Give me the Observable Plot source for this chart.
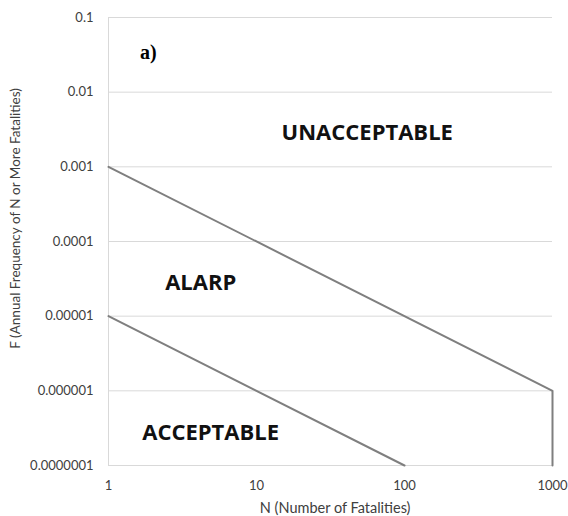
<!DOCTYPE html>
<html><head><meta charset="utf-8">
<script src="https://cdn.jsdelivr.net/npm/d3@7"></script>
<script src="https://cdn.jsdelivr.net/npm/@observablehq/plot@0.6"></script>
<style>body{margin:0;background:#fff;} svg{font-family:Lato,"Open Sans",sans-serif;}</style>
</head><body><div id="chart"></div>
<script>
const xTicks = [1, 10, 100, 1000];
const yTicks = [1e-7, 1e-6, 1e-5, 1e-4, 1e-3, 1e-2, 1e-1];
const yTickLabels = ["0.0000001","0.000001","0.00001","0.0001","0.001","0.01","0.1"];
const upperN = [1, 1000, 1000];
const upperF = [1e-3, 1e-6, 1e-7];
const lowerN = [1, 100];
const lowerF = [1e-5, 1e-7];
const regionNames = ["UNACCEPTABLE", "ALARP", "ACCEPTABLE"];
const regionN = [56, 4.2, 4.9];
const regionF = [0.0028, 2.75e-5, 2.7e-7];
const panelLabel = "a)";
const panelN = [1.86];
const panelF = [0.034];
const xTitle = "N (Number of Fatalities)";
const yTitle = "F (Annual Frequency of N or More Fatalities)";

const upper = upperN.map((n, i) => ({n, f: upperF[i]}));
const lower = lowerN.map((n, i) => ({n, f: lowerF[i]}));
const regions = regionNames.map((t, i) => ({t, n: regionN[i], f: regionF[i]}));

const chart = Plot.plot({
  width: 568, height: 516,
  marginLeft: 108, marginRight: 16, marginTop: 17, marginBottom: 51,
  style: {fontSize: "13px", color: "#404040"},
  x: {type: "log", domain: [1, 1000], ticks: xTicks, tickFormat: d => String(d), tickSize: 0, tickPadding: 15,
      label: null},
  y: {type: "log", domain: [1e-7, 0.1], ticks: yTicks, tickFormat: d => yTickLabels[yTicks.findIndex(v => Math.abs(Math.log10(v) - Math.log10(d)) < 1e-6)], tickSize: 0, tickPadding: 15,
      label: null},
  marks: [
    Plot.ruleY(yTicks, {stroke: "#d9d9d9", strokeWidth: 1}),
    Plot.ruleX([1], {stroke: "#d9d9d9", strokeWidth: 1}),
    Plot.line(upper, {x: "n", y: "f", stroke: "#7f7f7f", strokeWidth: 2}),
    Plot.line(lower, {x: "n", y: "f", stroke: "#7f7f7f", strokeWidth: 2}),
    Plot.text(regions, {x: "n", y: "f", text: "t", fontSize: 22, fontWeight: "bold", fill: "#111", fontFamily: "Open Sans"}),
    Plot.text(panelN, {x: d => d, y: (d, i) => panelF[i], text: () => panelLabel, fontSize: 20, fontWeight: "bold", fill: "#000", fontFamily: "Liberation Serif, serif"}),
    Plot.text([xTitle], {x: 34, frameAnchor: "bottom", dy: 47, text: d => d, fontSize: 14.5, fill: "#404040"}),
    Plot.text([yTitle], {y: 2.04e-4, frameAnchor: "left", textAnchor: "middle", dx: -93, rotate: -90, text: d => d, fontSize: 13.5, fill: "#404040"})
  ]
});
document.getElementById("chart").appendChild(chart);
</script></body></html>
